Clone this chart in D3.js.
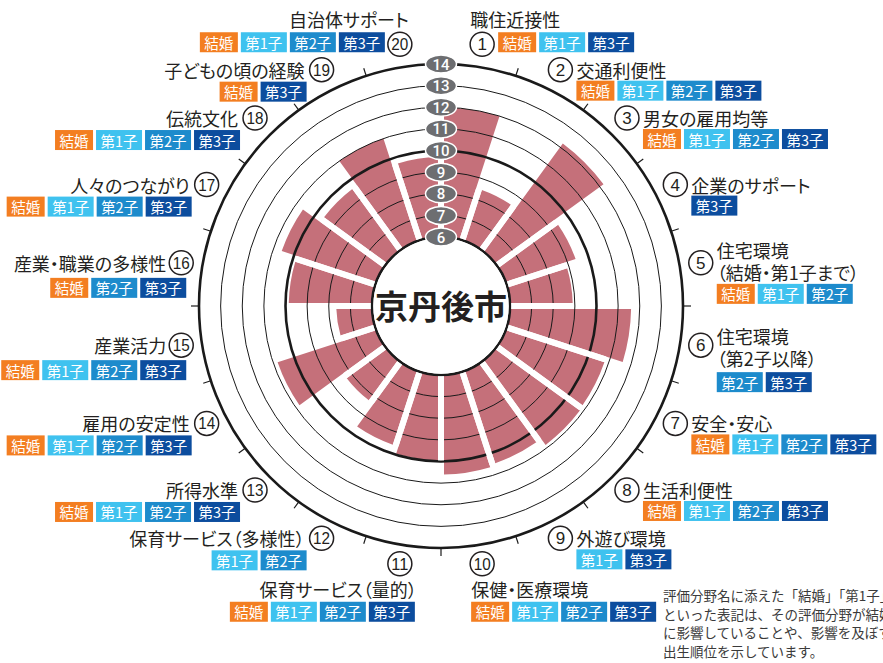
<!DOCTYPE html>
<html>
<head>
<meta charset="utf-8">
<script src="https://cdn.jsdelivr.net/npm/d3@7"></script>
<style>
  body { margin: 0; background: #fff; }
  svg text { font-family: "Noto Sans CJK JP", sans-serif; }
  .lbl { font-size: 18px; fill: #231f20; font-feature-settings: "palt"; }
  .tag { font-size: 14.5px; fill: #fff; font-feature-settings: "palt"; }
  .note { font-size: 13.5px; fill: #3a3a3a; }
</style>
</head>
<body>
<div id="chart"></div>
<script>
// 評価分野 (clockwise from the top)
var categories = [
  "職住近接性", "交通利便性", "男女の雇用均等", "企業のサポート",
  "住宅環境\n（結婚・第1子まで）", "住宅環境\n（第2子以降）", "安全・安心", "生活利便性",
  "外遊び環境", "保健・医療環境", "保育サービス（量的）", "保育サービス（多様性）",
  "所得水準", "雇用の安定性", "産業活力", "産業・職業の多様性",
  "人々のつながり", "伝統文化", "子どもの頃の経験", "自治体サポート"
];

var values = [12.0, 8.5, 12.2, 9.4, 8.9, 11.6, 10.8, 10.85, 10.5, 10.6,
              9.95, 9.6, 8.3, 10.8, 7.65, 9.85, 10.6, 9.6, 11.0, 9.7];

var tagSets = [
  ["結婚", "第1子", "第3子"],
  ["結婚", "第1子", "第2子", "第3子"],
  ["結婚", "第1子", "第2子", "第3子"],
  ["第3子"],
  ["結婚", "第1子", "第2子"],
  ["第2子", "第3子"],
  ["結婚", "第1子", "第2子", "第3子"],
  ["結婚", "第1子", "第2子", "第3子"],
  ["第1子", "第3子"],
  ["結婚", "第1子", "第2子", "第3子"],
  ["結婚", "第1子", "第2子", "第3子"],
  ["第1子", "第2子"],
  ["結婚", "第1子", "第2子", "第3子"],
  ["結婚", "第1子", "第2子", "第3子"],
  ["結婚", "第1子", "第2子", "第3子"],
  ["結婚", "第2子", "第3子"],
  ["結婚", "第1子", "第2子", "第3子"],
  ["結婚", "第1子", "第2子", "第3子"],
  ["結婚", "第3子"],
  ["結婚", "第1子", "第2子", "第3子"]
];

var tickValues = [6, 7, 8, 9, 10, 11, 12, 13, 14];
var majorTicks = [6, 10, 14];

var cityName = "京丹後市";

var footnote = [
  "評価分野名に添えた「結婚」「第1子」",
  "といった表記は、その評価分野が結婚",
  "に影響していることや、影響を及ぼす",
  "出生順位を示しています。"
];

var tagColors = { "結婚": "#f37e21", "第1子": "#3fc2ef", "第2子": "#1d8bcc", "第3子": "#0c4d9e" };
var tagWidths = { "結婚": 38, "第1子": 46, "第2子": 46, "第3子": 46 };

const WIDTH = 883;
const HEIGHT = 663;
const CX = 441;
const CY = 306;
const BAR_COLOR = "#c5707a";
const GAP = 6;

var translate = function(x, y){
  return "translate(" + x + "," + y + ")";
};

var rScale = d3.scaleLinear().domain([6, 14]).range([69, 242]);

var angle = d3.scaleBand()
  .domain(d3.range(categories.length))
  .range([0, 2 * Math.PI]);
var bw = angle.bandwidth();

var polar = function(r, a){
  return [r * Math.sin(a), -r * Math.cos(a)];
};

var svg = d3.select("#chart").append("svg")
  .attr("width", WIDTH)
  .attr("height", HEIGHT);

var g = svg.append("g").attr("transform", translate(CX, CY));

// bars
var arc = d3.arc()
  .innerRadius(rScale(6))
  .outerRadius(function(d){ return rScale(d); })
  .startAngle(function(d, i){ return angle(i); })
  .endAngle(function(d, i){ return angle(i) + bw; })
  .padAngle(GAP / 100)
  .padRadius(100);

g.append("g").selectAll("path")
  .data(values)
  .enter().append("path")
  .attr("d", arc)
  .attr("fill", BAR_COLOR);

// rings
g.append("g").selectAll("circle")
  .data(tickValues)
  .enter().append("circle")
  .attr("r", function(d){ return rScale(d); })
  .attr("fill", "none")
  .attr("stroke", "#1a1a1a")
  .attr("stroke-width", function(d){ return majorTicks.indexOf(d) >= 0 ? 2.6 : 1; });

// white gaps between neighbouring bars
g.append("g").selectAll("line")
  .data(values)
  .enter().append("line")
  .each(function(d, i){
    var prev = values[(i + values.length - 1) % values.length];
    var a = angle(i);
    var p0 = polar(rScale(6) + 1.4, a);
    var p1 = polar(rScale(Math.min(d, prev)), a);
    d3.select(this)
      .attr("x1", p0[0]).attr("y1", p0[1])
      .attr("x2", p1[0]).attr("y2", p1[1]);
  })
  .attr("stroke", "#fff")
  .attr("stroke-width", GAP);

// centre
g.append("circle").attr("r", rScale(6) - 1.3).attr("fill", "#fff");
g.append("text")
  .attr("y", -1)
  .attr("text-anchor", "middle")
  .attr("dominant-baseline", "central")
  .style("font-size", "33px")
  .style("font-weight", "bold")
  .attr("fill", "#231f20")
  .text(cityName);

// outer tick marks
g.append("g").selectAll("line")
  .data(d3.range(categories.length))
  .enter().append("line")
  .each(function(i){
    var p0 = polar(rScale(14), angle(i));
    var p1 = polar(rScale(14) + 8, angle(i));
    d3.select(this)
      .attr("x1", p0[0]).attr("y1", p0[1])
      .attr("x2", p1[0]).attr("y2", p1[1]);
  })
  .attr("stroke", "#1a1a1a")
  .attr("stroke-width", 1.2);

// scale pills
var pills = g.append("g").selectAll("g")
  .data(tickValues)
  .enter().append("g")
  .attr("transform", function(d){ return translate(0, -rScale(d)); });

pills.append("ellipse")
  .attr("rx", 15.5).attr("ry", 9)
  .attr("fill", "#6d6e71")
  .attr("stroke", "#fff")
  .attr("stroke-width", 1.5);

pills.append("text")
  .attr("text-anchor", "middle")
  .attr("dominant-baseline", "central")
  .attr("y", 0.5)
  .style("font-family", "Roboto, 'Liberation Sans', sans-serif")
  .style("font-size", "15px")
  .style("font-weight", 500)
  .attr("fill", "#fff")
  .text(function(d){ return d; });

// category labels
var drawTags = function(parent, list, x, y, alignEnd){
  var total = d3.sum(list, function(t){ return tagWidths[t]; }) + 3 * (list.length - 1);
  var cur = alignEnd ? x - total : x;
  list.forEach(function(t){
    parent.append("rect")
      .attr("x", cur).attr("y", y - 10)
      .attr("width", tagWidths[t]).attr("height", 20)
      .attr("fill", tagColors[t]);
    parent.append("text")
      .attr("class", "tag")
      .attr("x", cur + tagWidths[t] / 2)
      .attr("y", y)
      .attr("text-anchor", "middle")
      .attr("dominant-baseline", "central")
      .text(t);
    cur += tagWidths[t] + 3;
  });
};

var labels = svg.append("g");

categories.forEach(function(name, i){
  var mid = angle(i) + bw / 2;
  var nx = CX + 263 * Math.sin(mid);
  var ny = 304 - 263 * Math.cos(mid);
  var lg = labels.append("g");

  lg.append("circle")
    .attr("cx", nx).attr("cy", ny).attr("r", 12)
    .attr("fill", "#fff")
    .attr("stroke", "#231f20")
    .attr("stroke-width", 1.5);
  var num = lg.append("text")
    .attr("x", nx).attr("y", ny + 0.5)
    .attr("text-anchor", "middle")
    .attr("dominant-baseline", "central")
    .style("font-family", "'Liberation Sans', Arial, sans-serif")
    .style("font-size", "17px")
    .attr("fill", "#231f20")
    .text(i + 1);
  if (i >= 9) num.attr("textLength", 17).attr("lengthAdjust", "spacingAndGlyphs");

  var lines = name.split("\n");
  var end = i >= 10;
  var tx, tagX, textY, tagY;
  if (i === 0) { tx = nx - 12; tagX = nx + 16; textY = [ny - 25]; tagY = ny - 2; }
  else if (i === 4) { tx = nx + 16; tagX = tx; textY = [ny - 13, ny + 9]; tagY = ny + 31; }
  else if (i === 5) { tx = nx + 16; tagX = tx; textY = [ny - 9, ny + 13]; tagY = ny + 37; }
  else if (i === 9) { tx = nx - 11; tagX = tx; textY = [ny + 25]; tagY = ny + 48; }
  else if (i === 10) { tx = nx + 17; tagX = nx + 15; textY = [ny + 25]; tagY = ny + 48; }
  else if (i === 14 || i === 15) { tx = nx - 15; tagX = nx + 5; textY = [ny]; tagY = ny + 25; }
  else if (i === 19) { tx = nx + 9; tagX = nx - 15; textY = [ny - 25]; tagY = ny - 2; }
  else if (i < 9) { tx = nx + 16; tagX = tx; textY = [ny]; tagY = ny + 21; }
  else { tx = nx - 17; tagX = nx - 15; textY = [ny]; tagY = ny + 22; }

  lines.forEach(function(line, k){
    lg.append("text")
      .attr("class", "lbl")
      .attr("x", tx).attr("y", textY[k])
      .attr("text-anchor", end ? "end" : "start")
      .attr("dominant-baseline", "central")
      .text(line);
  });
  drawTags(lg, tagSets[i], tagX, tagY, end);
});

// footnote
svg.append("g").selectAll("text")
  .data(footnote)
  .enter().append("text")
  .attr("class", "note")
  .attr("x", 663)
  .attr("y", function(d, i){ return 595 + i * 18.5; })
  .attr("dominant-baseline", "central")
  .text(function(d){ return d; });
</script>
</body>
</html>
